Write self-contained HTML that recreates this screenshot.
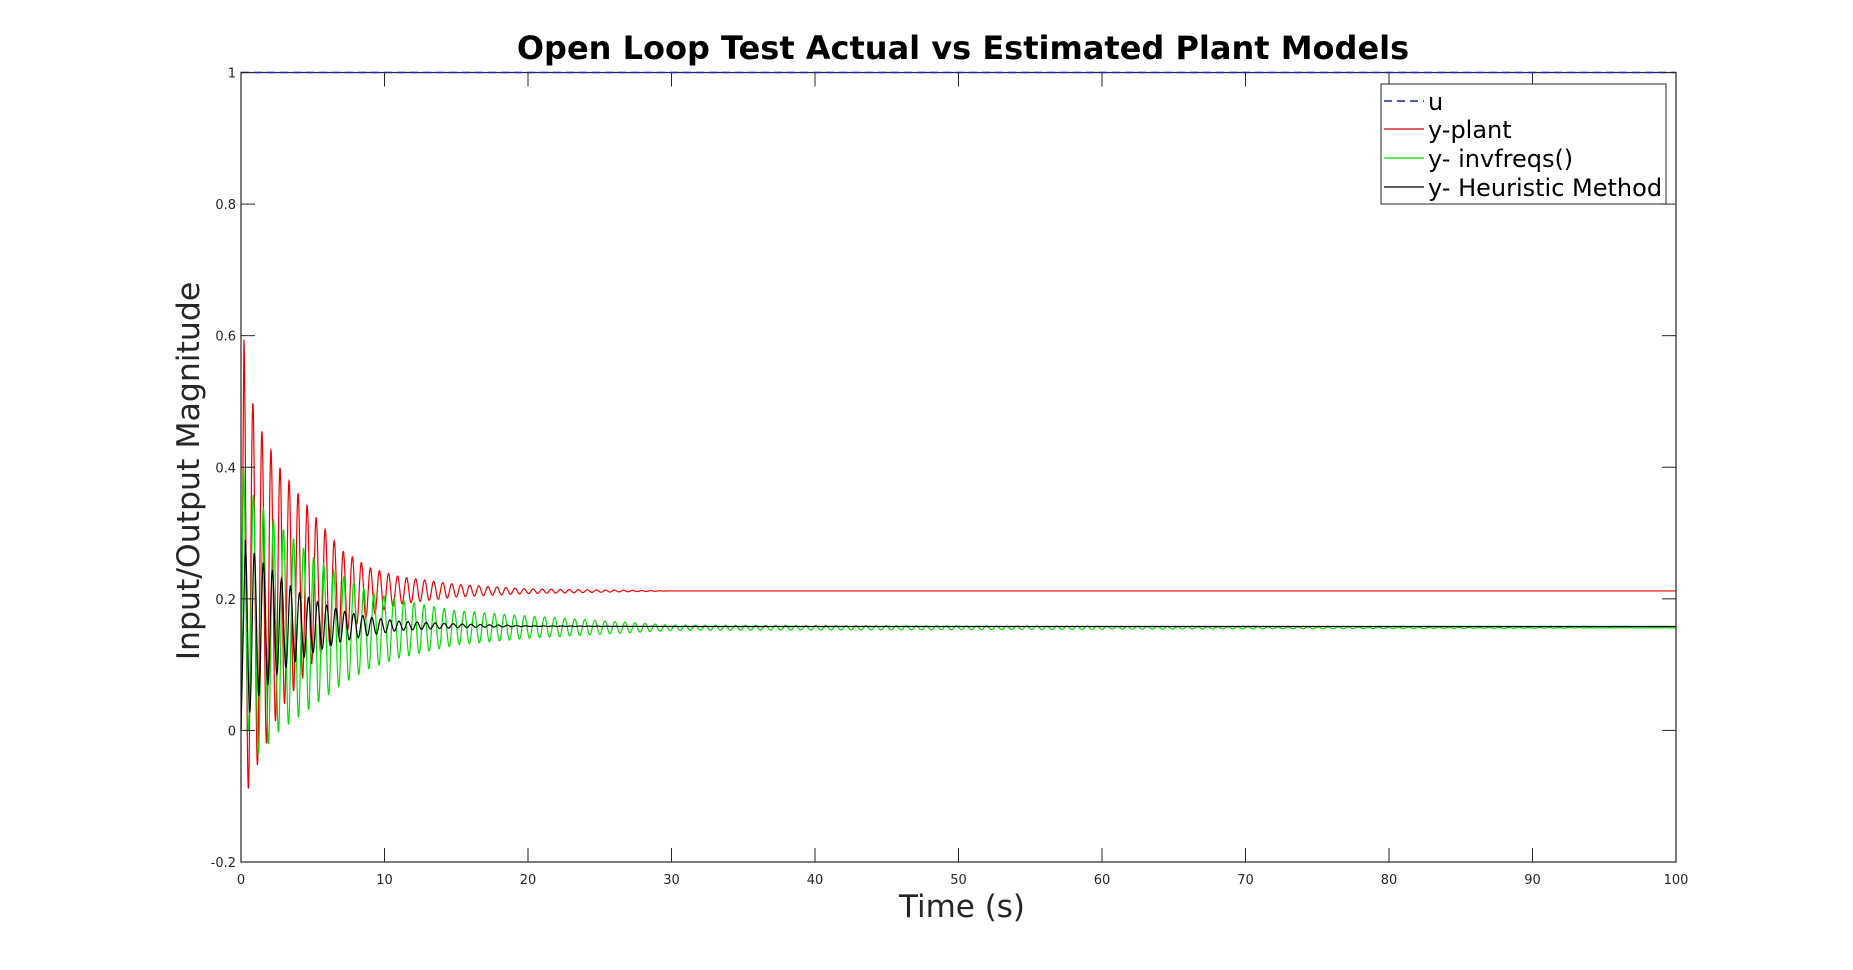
<!DOCTYPE html>
<html><head><meta charset="utf-8"><style>
html,body{margin:0;padding:0;background:#fff;}
svg{display:block;font-family:"DejaVu Sans","Liberation Sans",sans-serif;}
</style></head><body>
<svg id="chart" width="1853" height="970" viewBox="0 0 1853 970" xmlns="http://www.w3.org/2000/svg">
<rect width="1853" height="970" fill="#fff"/>
<text x="963" y="59" text-anchor="middle" font-size="32" font-weight="bold" fill="#000">Open Loop Test Actual vs Estimated Plant Models</text>
<g id="plot"></g>
<g id="axes"></g>
<text x="962" y="917" text-anchor="middle" font-size="31" fill="#262626">Time (s)</text>
<text transform="translate(199,471) rotate(-90)" text-anchor="middle" font-size="31.5" fill="#262626">Input/Output Magnitude</text>
<g>
<rect x="1381" y="84" width="285" height="120" fill="#fff" stroke="#262626" stroke-width="1"/>
<g><line x1="1384" y1="101" x2="1424" y2="101" stroke="#2222bb" stroke-width="1.5" stroke-dasharray="8,5"/><text x="1428" y="110" font-size="24" fill="#000">u</text></g>
<g><line x1="1384" y1="129" x2="1424" y2="129" stroke="#cc0000" stroke-width="1.3"/><text x="1428" y="138" font-size="24" fill="#000">y-plant</text></g>
<g><line x1="1384" y1="158" x2="1424" y2="158" stroke="#00dd00" stroke-width="1.3"/><text x="1428" y="167" font-size="24" fill="#000">y- invfreqs()</text></g>
<g><line x1="1384" y1="187" x2="1424" y2="187" stroke="#000" stroke-width="1.3"/><text x="1428" y="196" font-size="24" fill="#000">y- Heuristic Method</text></g>
</g>
</svg>
<script>
const xTicks = [0,10,20,30,40,50,60,70,80,90,100];
const yTicks = [-0.2,0,0.2,0.4,0.6,0.8,1];
const yTickLabels = ["-0.2","0","0.2","0.4","0.6","0.8","1"];
const envTimes = [0.2,0.8,1.5,2.7,4,5.2,7,9,11,15,20,30,100];
const plantUpper = [0.594,0.50,0.452,0.40,0.36,0.325,0.274,0.247,0.234,0.222,0.215,0.212,0.212];
const plantLower = [-0.11,-0.07,-0.035,0.03,0.07,0.11,0.147,0.175,0.192,0.203,0.208,0.212,0.212];
const invUpper = [0.40,0.36,0.34,0.31,0.285,0.26,0.235,0.21,0.198,0.182,0.174,0.16,0.156];
const invLower = [0.05,-0.045,-0.03,0.0,0.02,0.04,0.07,0.095,0.11,0.13,0.14,0.152,0.156];
const heurUpper = [0.29,0.272,0.256,0.233,0.21,0.197,0.182,0.172,0.166,0.162,0.159,0.158,0.158];
const heurLower = [0.0,0.04,0.06,0.09,0.107,0.12,0.135,0.145,0.152,0.156,0.158,0.158,0.158];
const periods = [0.63,0.70,0.63];
const firstPeakTimes = [0.2,0.16,0.3];
const inputValue = 1;

const X0=241,X1=1676,Y0=862,Y1=72.5;
const xs=t=>X0+(t-0)/(100-0)*(X1-X0);
const ys=v=>Y0-(v-(-0.2))/(1-(-0.2))*(Y0-Y1);
const NS="http://www.w3.org/2000/svg";
const plot=document.getElementById('plot');
const axes=document.getElementById('axes');
function mk(tag,attrs,parent){const e=document.createElementNS(NS,tag);for(const k in attrs)e.setAttribute(k,attrs[k]);parent.appendChild(e);return e;}
function interp(arr,t){
  if(t<=envTimes[0])return arr[0];
  for(let i=1;i<envTimes.length;i++){if(t<=envTimes[i]){const f=(t-envTimes[i-1])/(envTimes[i]-envTimes[i-1]);return arr[i-1]+f*(arr[i]-arr[i-1]);}}
  return arr[arr.length-1];
}
function series(up,lo,P,tp){
  let d='M'+xs(0).toFixed(2)+','+ys(0).toFixed(2);
  d+=' L'+xs(tp).toFixed(2)+','+ys(up[0]).toFixed(2);
  for(let t=tp;t<=100;t+=0.02){
    const u=interp(up,t),l=interp(lo,t);
    const v=(u+l)/2+(u-l)/2*Math.cos(2*Math.PI*(t-tp)/P);
    d+=' L'+xs(t).toFixed(2)+','+ys(v).toFixed(2);
  }
  return d;
}
const s1=mk('path',{d:series(plantUpper,plantLower,periods[0],firstPeakTimes[0]),fill:'none',stroke:'#ee0000','stroke-width':1.2},plot);


const s2=mk('path',{d:series(invUpper,invLower,periods[1],firstPeakTimes[1]),fill:'none',stroke:'#00dd00','stroke-width':1.2},plot);


const s3=mk('path',{d:series(heurUpper,heurLower,periods[2],firstPeakTimes[2]),fill:'none',stroke:'#000','stroke-width':1.2},plot);


const box=mk('rect',{x:X0,y:Y1,width:X1-X0,height:Y0-Y1,fill:'none',stroke:'#262626','stroke-width':1.2},axes);


const uLine=mk('line',{x1:xs(0),y1:ys(inputValue),x2:xs(100),y2:ys(inputValue),stroke:'#2222bb','stroke-width':1.6,'stroke-dasharray':'8,5'},axes);


xTicks.forEach(t=>{
  const x=xs(t);
  mk('line',{x1:x,y1:Y0,x2:x,y2:Y0-14,stroke:'#262626'},axes);
  mk('line',{x1:x,y1:Y1,x2:x,y2:Y1+14,stroke:'#262626'},axes);
  const lb=mk('text',{x:x,y:Y0+22,'text-anchor':'middle','font-size':13,fill:'#262626'},axes);
  lb.textContent=String(t);
  
  
});
yTicks.forEach((v,i)=>{
  const y=ys(v);
  mk('line',{x1:X0,y1:y,x2:X0+14,y2:y,stroke:'#262626'},axes);
  mk('line',{x1:X1,y1:y,x2:X1-14,y2:y,stroke:'#262626'},axes);
  const lb=mk('text',{x:X0-5,y:y+5,'text-anchor':'end','font-size':13,fill:'#262626'},axes);
  lb.textContent=yTickLabels[i];
  
  
});
</script>
</body></html>
